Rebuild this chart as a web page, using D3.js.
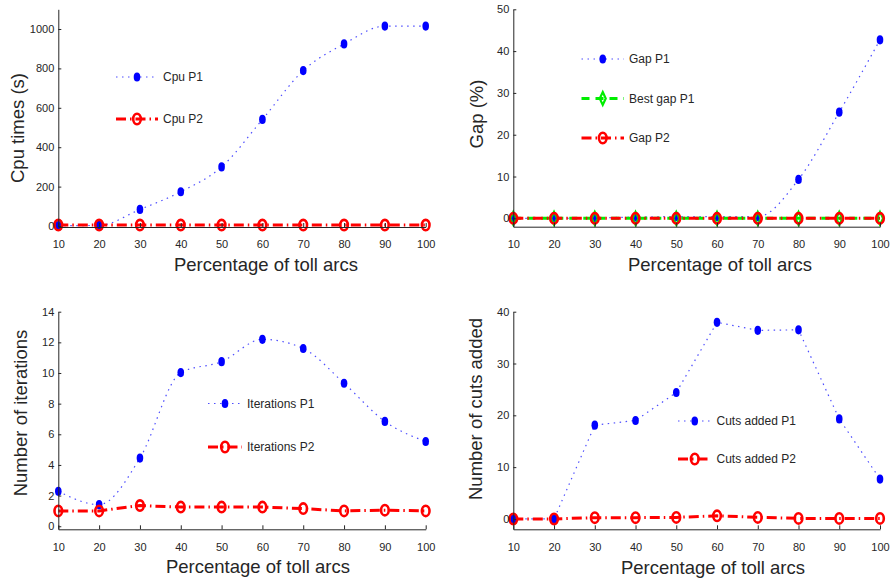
<!DOCTYPE html>
<html>
<head>
<meta charset="utf-8">
<script src="https://cdn.jsdelivr.net/npm/d3@7"></script>
<style>
  body { margin: 0; background: #fff; }
  text { font-family: "Liberation Sans", Arial, sans-serif; fill: #262626; }
</style>
</head>
<body>
<div id="chart"></div>
<script>
const pct = [10, 20, 30, 40, 50, 60, 70, 80, 90, 100];

const cpuP1 = [2, 3, 84, 174, 300, 541, 789, 924, 1015, 1015];
const cpuP2 = [5, 5, 5, 5, 5, 5, 5, 5, 5, 5];

const gapP1 = [0, 0, 0.1, 0.3, 0.4, 0.4, 0.4, 9.3, 25.4, 42.7];
const bestGapP1 = [0, 0, 0, 0, 0, 0, 0, 0, 0, 0];
const gapP2 = [0, 0, 0, 0, 0, 0, 0, 0, 0, 0];

const iterP1 = [2.28, 1.41, 4.45, 10.03, 10.74, 12.2, 11.6, 9.33, 6.84, 5.53];
const iterP2 = [1.0, 1.0, 1.35, 1.25, 1.25, 1.25, 1.15, 1.0, 1.05, 1.0];

const cutsP1 = [0, 0, 18.1, 19.0, 24.4, 37.95, 36.4, 36.5, 19.3, 7.7];
const cutsP2 = [0, 0, 0.25, 0.25, 0.3, 0.6, 0.3, 0.1, 0.1, 0.1];

const width = 893, height = 580;
const svg = d3.select("#chart").append("svg")
    .attr("width", width).attr("height", height);

// series styles
const styles = {
  p1:   { color: "#0000ff", lineColor: "#4d4dff", dash: "1.5,4.5", lw: 1.2, marker: "dot" },
  best: { color: "#00ee00", lineColor: "#00ee00", dash: "8,6", lw: 3, marker: "diamond" },
  p2:   { color: "#ff0000", lineColor: "#ff0000", dash: "10,4,1.5,4", lw: 3, marker: "circle" }
};

const panels = [
  { x0: 58.3, x1: 425.7, yb: 227, yt: 9.3, ydom: [-5, 1100], yticks: d3.range(0, 1001, 200),
    ylabel: "Cpu times (s)", ylx: 17, yly: 128, xlx: 266, xly: 271, tky: 248, curve: true,
    series: [{ name: "Cpu P1", vals: cpuP1, s: "p1" }, { name: "Cpu P2", vals: cpuP2, s: "p2" }],
    leg: { x: 116, y: 77, dy: 42, tx: 163 } },
  { x0: 513.3, x1: 880, yb: 226.7, yt: 9.3, ydom: [-2, 50], yticks: d3.range(0, 51, 10),
    ylabel: "Gap (%)", ylx: 476.5, yly: 114, xlx: 720, xly: 271, tky: 248, curve: true,
    series: [{ name: "Gap P1", vals: gapP1, s: "p1" }, { name: "Best gap P1", vals: bestGapP1, s: "best" },
             { name: "Gap P2", vals: gapP2, s: "p2" }],
    leg: { x: 581.5, y: 59, dy: 39.5, tx: 629 } },
  { x0: 58.3, x1: 425.7, yb: 529.3, yt: 311.7, ydom: [-0.2, 14], yticks: d3.range(0, 15, 2),
    ylabel: "Number of iterations", ylx: 20.5, yly: 413, xlx: 258, xly: 573, tky: 551, curve: true,
    series: [{ name: "Iterations P1", vals: iterP1, s: "p1" }, { name: "Iterations P2", vals: iterP2, s: "p2" }],
    leg: { x: 208, y: 403.5, dy: 43.5, tx: 247 } },
  { x0: 513.3, x1: 880, yb: 529.3, yt: 311.7, ydom: [-2, 40], yticks: d3.range(0, 41, 10),
    ylabel: "Number of cuts added", ylx: 475.5, yly: 409, xlx: 713, xly: 573.5, tky: 551, curve: false,
    series: [{ name: "Cuts added P1", vals: cutsP1, s: "p1" }, { name: "Cuts added P2", vals: cutsP2, s: "p2" }],
    leg: { x: 678, y: 421, dy: 38, tx: 716.5 } }
];

function drawMarker(g, st, cx, cy) {
  if (st.marker === "dot") {
    g.append("ellipse").attr("cx", cx).attr("cy", cy).attr("rx", 3.3).attr("ry", 4.6)
      .attr("fill", st.color);
  } else if (st.marker === "circle") {
    g.append("ellipse").attr("cx", cx).attr("cy", cy).attr("rx", 3.8).attr("ry", 5.2)
      .attr("fill", "none").attr("stroke", st.color).attr("stroke-width", 2.6);
  } else {
    g.append("path")
      .attr("d", `M${cx},${cy - 6.5}L${cx + 3},${cy}L${cx},${cy + 6.5}L${cx - 3},${cy}Z`)
      .attr("fill", "none").attr("stroke", st.color).attr("stroke-width", 2.2);
  }
}

panels.forEach(p => {
  const x = d3.scaleLinear().domain([10, 100]).range([p.x0, p.x1]);
  const y = d3.scaleLinear().domain(p.ydom).range([p.yb, p.yt]);
  const g = svg.append("g");

  // data lines
  p.series.forEach(ser => {
    const st = styles[ser.s];
    const line = d3.line()
      .x((d, i) => x(pct[i]))
      .y(d => y(d))
      .curve(p.curve && ser.s === "p1" ? d3.curveMonotoneX : d3.curveLinear);
    g.append("path").datum(ser.vals)
      .attr("d", line)
      .attr("fill", "none")
      .attr("stroke", st.lineColor)
      .attr("stroke-width", st.lw)
      .attr("stroke-dasharray", st.dash);
  });
  p.series.forEach(ser => {
    const st = styles[ser.s];
    ser.vals.forEach((v, i) => drawMarker(g, st, x(pct[i]), y(v)));
  });

  // axes
  const yAxis = d3.axisLeft(y).tickValues(p.yticks).tickFormat(d3.format("d"))
    .tickSizeInner(-3).tickSizeOuter(0).tickPadding(4);
  const gy = g.append("g").attr("transform", `translate(${p.x0},0)`).call(yAxis);
  const xAxis = d3.axisBottom(x).tickValues(pct).tickFormat(d3.format("d"))
    .tickSizeInner(-4).tickSizeOuter(0).tickPadding(0);
  const gx = g.append("g").attr("transform", `translate(0,${p.yb})`).call(xAxis);
  [gy, gx].forEach(a => {
    a.select(".domain").attr("stroke", "#262626").attr("stroke-width", 1);
    a.selectAll(".tick line").attr("stroke", "#262626");
    a.selectAll(".tick text").attr("font-size", 11).attr("fill", "#262626")
      .style("font-family", "'Liberation Sans', Arial, sans-serif");
  });
  gx.selectAll(".tick text").attr("y", p.tky - p.yb).attr("dy", 0);

  // labels
  g.append("text").attr("x", p.xlx).attr("y", p.xly).attr("text-anchor", "middle")
    .attr("font-size", 18.5).text("Percentage of toll arcs");
  g.append("text").attr("transform", `translate(${p.ylx},${p.yly}) rotate(-90)`)
    .attr("text-anchor", "middle").attr("dominant-baseline", "central")
    .attr("font-size", 18.5).text(p.ylabel);

  // legend
  p.series.forEach((ser, k) => {
    const st = styles[ser.s];
    const ly = p.leg.y + k * p.leg.dy;
    const lx0 = p.leg.x, lx1 = p.leg.tx - 5;
    g.append("line").attr("x1", lx0).attr("x2", lx1).attr("y1", ly).attr("y2", ly)
      .attr("stroke", st.lineColor).attr("stroke-width", st.lw).attr("stroke-dasharray", st.dash);
    drawMarker(g, st, (lx0 + lx1) / 2, ly);
    g.append("text").attr("x", p.leg.tx).attr("y", ly).attr("dominant-baseline", "central")
      .attr("font-size", 12).text(ser.name);
  });
});
</script>
</body>
</html>
